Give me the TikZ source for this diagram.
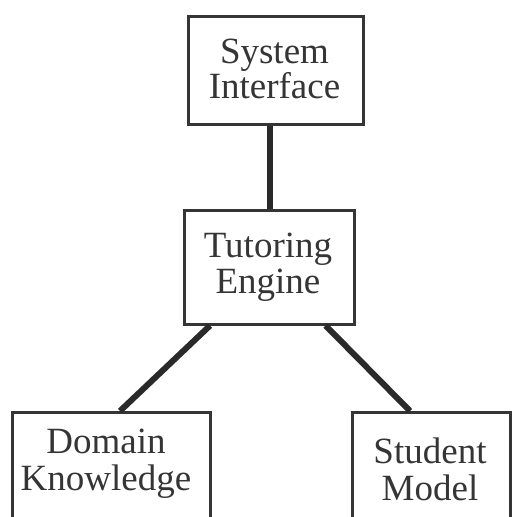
\documentclass[tikz,border=0pt]{standalone}
\usepackage{fontspec}
\setmainfont{Liberation Serif}
\usetikzlibrary{calc}
\definecolor{ink}{HTML}{353535}
\definecolor{linkink}{HTML}{2A2A2A}
\tikzset{
  box/.style={draw=ink, line width=2.6pt, rectangle, inner sep=0pt, anchor=north west},
  caption/.style={anchor=base, inner sep=0pt, text=ink, font=\fontsize{37}{37}\selectfont},
  link/.style={draw=linkink, line width=6pt},
}
\begin{document}
\begin{tikzpicture}[x=1pt, y=-1pt]
\useasboundingbox (0,0) rectangle (516,517);
\clip (0,0) rectangle (516,517);
% boxes
\node[box, minimum width=175pt, minimum height=108pt] (si) at (187,15) {};
\node[box, minimum width=170pt, minimum height=114pt] (te) at (183,209) {};
\node[box, minimum width=198pt, minimum height=140pt] (dk) at (11,411) {};
\node[box, minimum width=158pt, minimum height=140pt] (sm) at (351,411) {};
% captions
\node[caption] (si1) at (274.5,63) {System};
\node[caption] (si2) at (274.5,98) {Interface};
\node[caption] (te1) at (268,257) {Tutoring};
\node[caption] (te2) at (268,293) {Engine};
\node[caption] (dk1) at (106,453) {Domain};
\node[caption] (dk2) at (106,490) {Knowledge};
\node[caption] (sm1) at (430,463) {Student};
\node[caption] (sm2) at (430,500) {Model};
% connectors
\draw[link] ([xshift=82.5pt]si.south west) -- ([xshift=86.5pt]te.north west);
\draw[link] ([xshift=27pt]te.south west) -- ([xshift=109pt]dk.north west);
\draw[link] ([xshift=-30pt]te.south east) -- ([xshift=59pt]sm.north west);
\end{tikzpicture}
\end{document}
